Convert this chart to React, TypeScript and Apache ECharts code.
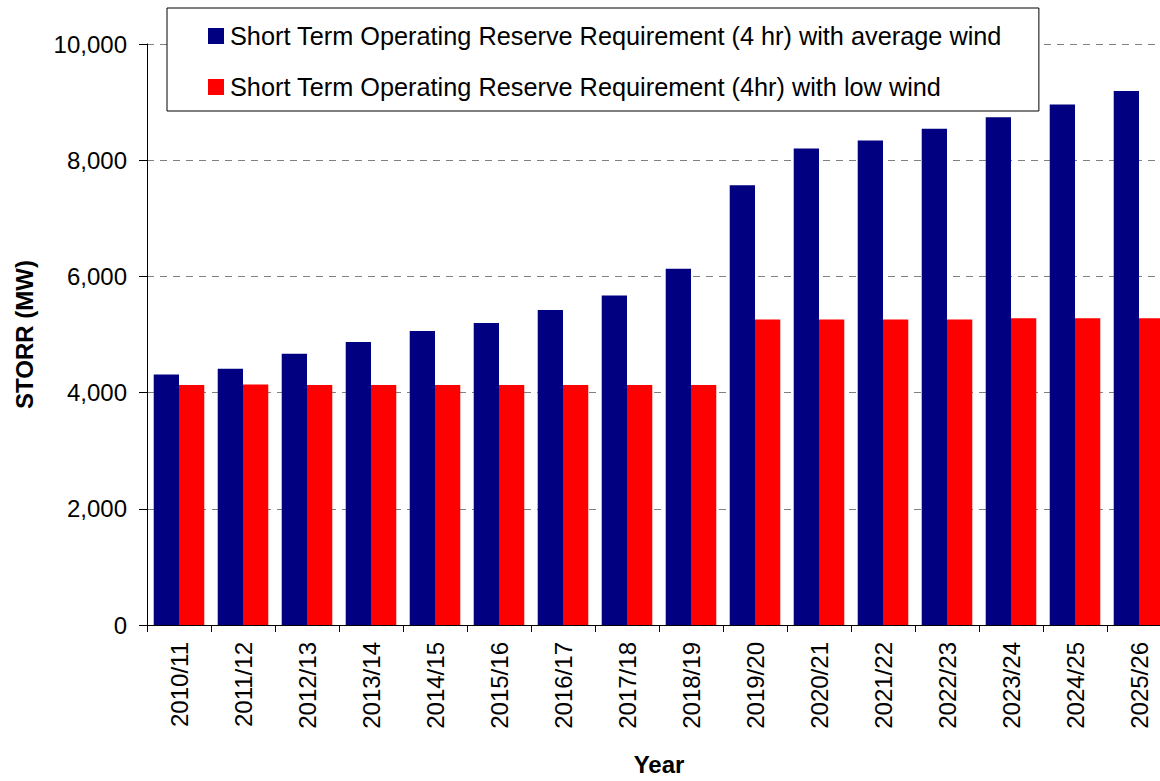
import React, { useEffect, useRef } from "react";
import * as echarts from "echarts";

const categories = [
  "2010/11", "2011/12", "2012/13", "2013/14", "2014/15", "2015/16", "2016/17", "2017/18",
  "2018/19", "2019/20", "2020/21", "2021/22", "2022/23", "2023/24", "2024/25", "2025/26",
];
const averageWind = [4310, 4410, 4670, 4870, 5060, 5200, 5420, 5670, 6130, 7570, 8200, 8340, 8540, 8740, 8960, 9190];
const lowWind = [4130, 4140, 4130, 4130, 4130, 4130, 4130, 4130, 4130, 5260, 5260, 5260, 5260, 5280, 5280, 5280];
const seriesNames = [
  "Short Term Operating Reserve Requirement (4 hr) with average wind",
  "Short Term Operating Reserve Requirement (4hr) with low wind",
];
const yTicks = { min: 0, max: 10000, interval: 2000 };

const FONT = "'Liberation Sans', Arial, Helvetica, sans-serif";

export default function App() {
  const ref = useRef<HTMLDivElement>(null);
  useEffect(() => {
    if (!ref.current) return;
    const chart = echarts.init(ref.current, null, { renderer: "svg" });
    chart.setOption({
      animation: false,
      backgroundColor: "#ffffff",
      textStyle: { fontFamily: FONT },
      grid: { left: 147, top: 44, width: 1024, height: 589, containLabel: false },
      legend: {
        orient: "vertical",
        left: 167,
        top: 8,
        padding: [15, 37, 11, 41],
        itemGap: 25,
        itemWidth: 16,
        itemHeight: 16,
        icon: "rect",
        backgroundColor: "#ffffff",
        borderColor: "#000000",
        borderWidth: 1,
        textStyle: { fontFamily: FONT, fontSize: 25.3, color: "#000", lineHeight: 26, padding: [0, 0, 0, 1] },
        data: seriesNames,
        z: 10,
      },
      xAxis: {
        type: "category",
        data: categories,
        name: "Year",
        nameLocation: "middle",
        nameGap: 127,
        nameTextStyle: { fontFamily: FONT, fontSize: 24, fontWeight: "bold", color: "#000" },
        axisLine: { show: true, lineStyle: { color: "#000", width: 1 } },
        axisTick: { show: true, length: 7, alignWithLabel: false, lineStyle: { color: "#000" } },
        axisLabel: { rotate: 90, margin: 17, fontFamily: FONT, fontSize: 24, color: "#000", interval: 0 },
        splitLine: { show: false },
      },
      yAxis: {
        type: "value",
        min: yTicks.min,
        max: yTicks.max,
        interval: yTicks.interval,
        name: "STORR (MW)",
        nameLocation: "middle",
        nameGap: 111,
        nameTextStyle: { fontFamily: FONT, fontSize: 24, fontWeight: "bold", color: "#000" },
        axisLine: { show: true, lineStyle: { color: "#000", width: 1 } },
        axisTick: { show: true, length: 8, lineStyle: { color: "#000" } },
        axisLabel: {
          margin: 20,
          fontFamily: FONT,
          fontSize: 24,
          color: "#000",
          formatter: (v: number) => v.toLocaleString("en-US"),
        },
        splitLine: { show: true, lineStyle: { color: "#808080", type: [7, 6], width: 1 } },
      },
      series: [
        {
          name: seriesNames[0],
          type: "bar",
          data: averageWind,
          itemStyle: { color: "#000080" },
          barGap: "0%",
          barCategoryGap: "21%",
        },
        {
          name: seriesNames[1],
          type: "bar",
          data: lowWind,
          itemStyle: { color: "#ff0000" },
          barGap: "0%",
          barCategoryGap: "21%",
        },
      ],
    });
    return () => chart.dispose();
  }, []);
  return (
    <div style={{ position: "absolute", left: 0, top: 0, width: 1160, height: 781, overflow: "hidden", background: "#fff" }}>
      <div ref={ref} style={{ width: 1200, height: 781 }} />
    </div>
  );
}
